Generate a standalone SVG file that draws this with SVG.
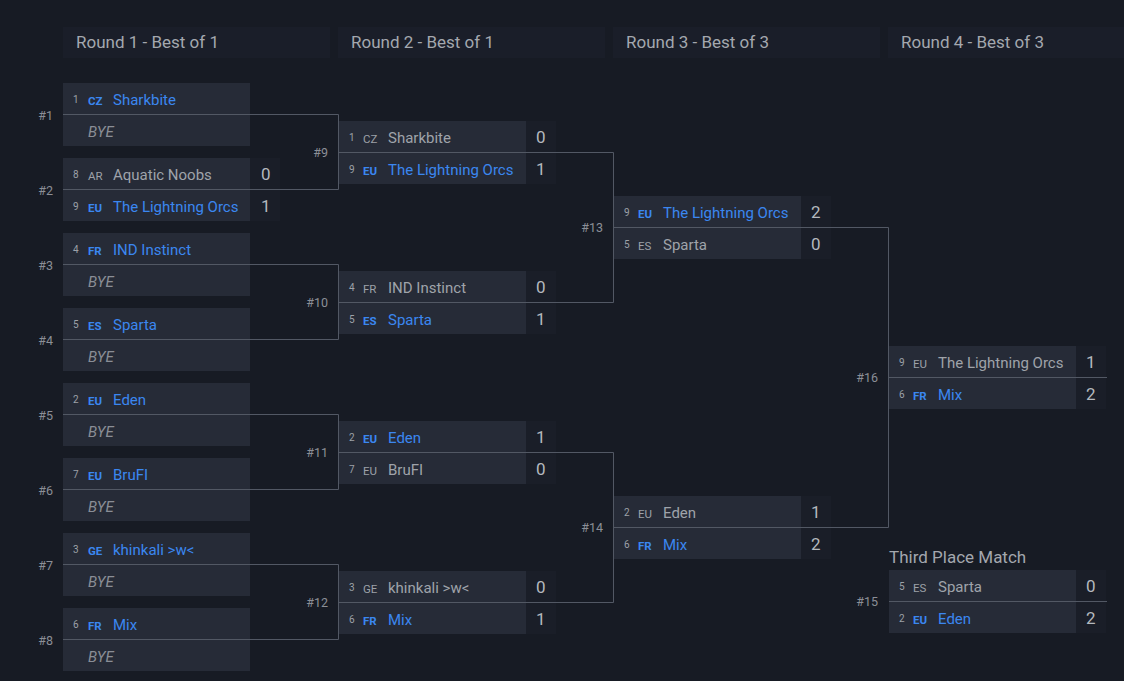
<svg xmlns="http://www.w3.org/2000/svg" width="1124" height="681" viewBox="0 0 1124 681">
<style>
text{font-family:Roboto,"Liberation Sans",sans-serif}
.hdr{fill:#1a1e29}
.ht{fill:#a4a8af;font-size:17px}
.box{fill:#262b37}
.sc{fill:#1a1e28}
.ln{fill:none;stroke:#525864;stroke-width:1}
.seed{fill:#9da1a8;font-size:10px}
.cw{fill:#3b87f0;font-size:11.5px;font-weight:bold}
.cl{fill:#9da1a8;font-size:11.5px}
.w{fill:#3b87f0;font-size:15px}
.l{fill:#9fa3aa;font-size:15px}
.bye{fill:#8a8e96;font-size:15px;font-style:italic}
.s{fill:#b4b8be;font-size:17px}
.lab{fill:#8b8f97;font-size:12.5px;text-anchor:end}
.tp{fill:#a3a7ae;font-size:17px}
</style>
<rect width="1124" height="681" fill="#171b24"/>
<g id="headers">
<rect class="hdr" x="63" y="27" width="267" height="31"/>
<rect class="hdr" x="338" y="27" width="267" height="31"/>
<rect class="hdr" x="613" y="27" width="267" height="31"/>
<rect class="hdr" x="888" y="27" width="267" height="31"/>
<text class="ht" x="76" y="48">Round 1 - Best of 1</text>
<text class="ht" x="351" y="48">Round 2 - Best of 1</text>
<text class="ht" x="626" y="48">Round 3 - Best of 3</text>
<text class="ht" x="901" y="48">Round 4 - Best of 3</text>
</g>
<g id="boxes">
<rect class="box" x="63" y="83" width="187" height="63"/>
<rect class="box" x="63" y="158" width="187" height="63"/><rect class="sc" x="250" y="158" width="30" height="63"/>
<rect class="box" x="63" y="233" width="187" height="63"/>
<rect class="box" x="63" y="308" width="187" height="63"/>
<rect class="box" x="63" y="383" width="187" height="63"/>
<rect class="box" x="63" y="458" width="187" height="63"/>
<rect class="box" x="63" y="533" width="187" height="63"/>
<rect class="box" x="63" y="608" width="187" height="63"/>
<rect class="box" x="339" y="121" width="187" height="63"/><rect class="sc" x="526" y="121" width="30" height="63"/>
<rect class="box" x="339" y="271" width="187" height="63"/><rect class="sc" x="526" y="271" width="30" height="63"/>
<rect class="box" x="339" y="421" width="187" height="63"/><rect class="sc" x="526" y="421" width="30" height="63"/>
<rect class="box" x="339" y="571" width="187" height="63"/><rect class="sc" x="526" y="571" width="30" height="63"/>
<rect class="box" x="614" y="196" width="187" height="63"/><rect class="sc" x="801" y="196" width="30" height="63"/>
<rect class="box" x="614" y="496" width="187" height="63"/><rect class="sc" x="801" y="496" width="30" height="63"/>
<rect class="box" x="889" y="346" width="187" height="63"/><rect class="sc" x="1076" y="346" width="30" height="63"/>
<rect class="box" x="889" y="570" width="187" height="63"/><rect class="sc" x="1076" y="570" width="30" height="63"/>
</g>
<g id="connectors">
<path class="ln" d="M63,114.5H338.5V189.5H63"/>
<path class="ln" d="M63,264.5H338.5V339.5H63"/>
<path class="ln" d="M63,414.5H338.5V489.5H63"/>
<path class="ln" d="M63,564.5H338.5V639.5H63"/>
<path class="ln" d="M338.5,152.5H613.5V302.5H338.5"/>
<path class="ln" d="M338.5,452.5H613.5V602.5H338.5"/>
<path class="ln" d="M613.5,227.5H888.5V527.5H613.5"/>
<path class="ln" d="M888.5,377.5H1107"/>
<path class="ln" d="M889,601.5H1107"/>
</g>
<g id="m1"><text class="lab" x="53" y="120">#1</text>
<text class="seed" x="73" y="103">1</text><text class="cw" x="88" y="105">CZ</text><text class="w" x="113" y="105">Sharkbite</text>
<text class="bye" x="88" y="137">BYE</text></g>
<g id="m2"><text class="lab" x="53" y="195">#2</text>
<text class="seed" x="73" y="178">8</text><text class="cl" x="88" y="180">AR</text><text class="l" x="113" y="180">Aquatic Noobs</text><text class="s" x="261" y="180">0</text>
<text class="seed" x="73" y="210">9</text><text class="cw" x="88" y="212">EU</text><text class="w" x="113" y="212">The Lightning Orcs</text><text class="s" x="261" y="212">1</text></g>
<g id="m3"><text class="lab" x="53" y="270">#3</text>
<text class="seed" x="73" y="253">4</text><text class="cw" x="88" y="255">FR</text><text class="w" x="113" y="255">IND Instinct</text>
<text class="bye" x="88" y="287">BYE</text></g>
<g id="m4"><text class="lab" x="53" y="345">#4</text>
<text class="seed" x="73" y="328">5</text><text class="cw" x="88" y="330">ES</text><text class="w" x="113" y="330">Sparta</text>
<text class="bye" x="88" y="362">BYE</text></g>
<g id="m5"><text class="lab" x="53" y="420">#5</text>
<text class="seed" x="73" y="403">2</text><text class="cw" x="88" y="405">EU</text><text class="w" x="113" y="405">Eden</text>
<text class="bye" x="88" y="437">BYE</text></g>
<g id="m6"><text class="lab" x="53" y="495">#6</text>
<text class="seed" x="73" y="478">7</text><text class="cw" x="88" y="480">EU</text><text class="w" x="113" y="480">BruFI</text>
<text class="bye" x="88" y="512">BYE</text></g>
<g id="m7"><text class="lab" x="53" y="570">#7</text>
<text class="seed" x="73" y="553">3</text><text class="cw" x="88" y="555">GE</text><text class="w" x="113" y="555">khinkali &gt;w&lt;</text>
<text class="bye" x="88" y="587">BYE</text></g>
<g id="m8"><text class="lab" x="53" y="645">#8</text>
<text class="seed" x="73" y="628">6</text><text class="cw" x="88" y="630">FR</text><text class="w" x="113" y="630">Mix</text>
<text class="bye" x="88" y="662">BYE</text></g>
<g id="m9"><text class="lab" x="328" y="157">#9</text>
<text class="seed" x="349" y="141">1</text><text class="cl" x="363" y="143">CZ</text><text class="l" x="388" y="143">Sharkbite</text><text class="s" x="536" y="143">0</text>
<text class="seed" x="349" y="173">9</text><text class="cw" x="363" y="175">EU</text><text class="w" x="388" y="175">The Lightning Orcs</text><text class="s" x="536" y="175">1</text></g>
<g id="m10"><text class="lab" x="328" y="307">#10</text>
<text class="seed" x="349" y="291">4</text><text class="cl" x="363" y="293">FR</text><text class="l" x="388" y="293">IND Instinct</text><text class="s" x="536" y="293">0</text>
<text class="seed" x="349" y="323">5</text><text class="cw" x="363" y="325">ES</text><text class="w" x="388" y="325">Sparta</text><text class="s" x="536" y="325">1</text></g>
<g id="m11"><text class="lab" x="328" y="457">#11</text>
<text class="seed" x="349" y="441">2</text><text class="cw" x="363" y="443">EU</text><text class="w" x="388" y="443">Eden</text><text class="s" x="536" y="443">1</text>
<text class="seed" x="349" y="473">7</text><text class="cl" x="363" y="475">EU</text><text class="l" x="388" y="475">BruFI</text><text class="s" x="536" y="475">0</text></g>
<g id="m12"><text class="lab" x="328" y="607">#12</text>
<text class="seed" x="349" y="591">3</text><text class="cl" x="363" y="593">GE</text><text class="l" x="388" y="593">khinkali &gt;w&lt;</text><text class="s" x="536" y="593">0</text>
<text class="seed" x="349" y="623">6</text><text class="cw" x="363" y="625">FR</text><text class="w" x="388" y="625">Mix</text><text class="s" x="536" y="625">1</text></g>
<g id="m13"><text class="lab" x="603" y="232">#13</text>
<text class="seed" x="624" y="216">9</text><text class="cw" x="638" y="218">EU</text><text class="w" x="663" y="218">The Lightning Orcs</text><text class="s" x="811" y="218">2</text>
<text class="seed" x="624" y="248">5</text><text class="cl" x="638" y="250">ES</text><text class="l" x="663" y="250">Sparta</text><text class="s" x="811" y="250">0</text></g>
<g id="m14"><text class="lab" x="603" y="532">#14</text>
<text class="seed" x="624" y="516">2</text><text class="cl" x="638" y="518">EU</text><text class="l" x="663" y="518">Eden</text><text class="s" x="811" y="518">1</text>
<text class="seed" x="624" y="548">6</text><text class="cw" x="638" y="550">FR</text><text class="w" x="663" y="550">Mix</text><text class="s" x="811" y="550">2</text></g>
<g id="m16"><text class="lab" x="878" y="382">#16</text>
<text class="seed" x="899" y="366">9</text><text class="cl" x="913" y="368">EU</text><text class="l" x="938" y="368">The Lightning Orcs</text><text class="s" x="1086" y="368">1</text>
<text class="seed" x="899" y="398">6</text><text class="cw" x="913" y="400">FR</text><text class="w" x="938" y="400">Mix</text><text class="s" x="1086" y="400">2</text></g>
<g id="m15"><text class="tp" x="889" y="563">Third Place Match</text>
<text class="lab" x="878" y="606">#15</text>
<text class="seed" x="899" y="590">5</text><text class="cl" x="913" y="592">ES</text><text class="l" x="938" y="592">Sparta</text><text class="s" x="1086" y="592">0</text>
<text class="seed" x="899" y="622">2</text><text class="cw" x="913" y="624">EU</text><text class="w" x="938" y="624">Eden</text><text class="s" x="1086" y="624">2</text></g>
</svg>
